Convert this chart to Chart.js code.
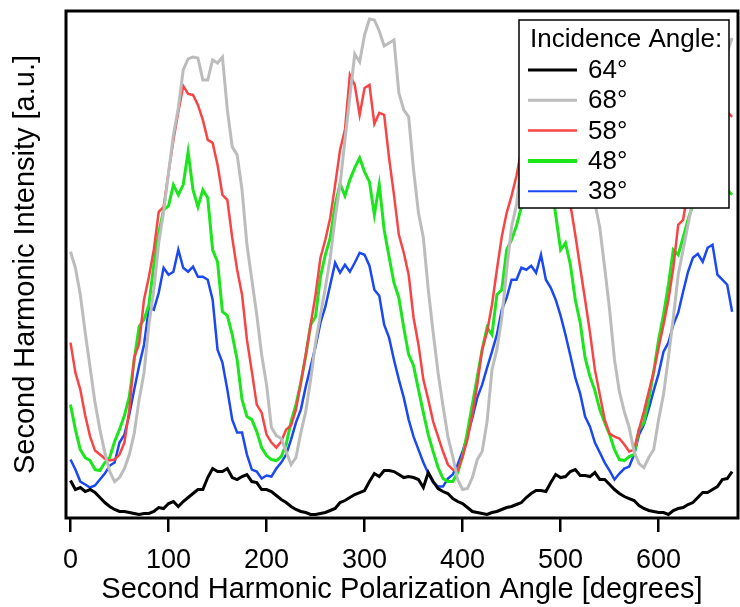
<!DOCTYPE html>
<html>
<head>
<meta charset="utf-8">
<script src="https://cdn.jsdelivr.net/npm/chart.js@4.4.1/dist/chart.umd.min.js"></script>
<style>
  html, body { margin: 0; padding: 0; background: #fff; }
  #wrap { width: 740px; height: 607px; position: relative; }
</style>
</head>
<body>
<div id="wrap"><canvas id="chart"></canvas></div>
<script>
// polarization angle in degrees (shared by all traces)
const angles = [
  0, 5, 10, 15, 20, 25, 30, 35, 40, 45, 50, 55, 60, 65, 70, 75, 80, 85, 90, 95,
  100, 105, 110, 115, 120, 125, 130, 135, 140, 145, 150, 155, 160, 165, 170, 175, 180, 185, 190, 195,
  200, 205, 210, 215, 220, 225, 230, 235, 240, 245, 250, 255, 260, 265, 270, 275, 280, 285, 290, 295,
  300, 305, 310, 315, 320, 325, 330, 335, 340, 345, 350, 355, 360, 365, 370, 375, 380, 385, 390, 395,
  400, 405, 410, 415, 420, 425, 430, 435, 440, 445, 450, 455, 460, 465, 470, 475, 480, 485, 490, 495,
  500, 505, 510, 515, 520, 525, 530, 535, 540, 545, 550, 555, 560, 565, 570, 575, 580, 585, 590, 595,
  600, 605, 610, 615, 620, 625, 630, 635, 640, 645, 650, 655, 660, 665, 670, 675
];

// second harmonic intensity [a.u.] for each incidence angle
const sh64 = [
  36, 27, 29, 25, 27, 24, 19, 14, 10, 7, 5, 5, 4, 3, 2, 3, 3, 5, 9, 8,
  13, 15, 10, 15, 19, 23, 27, 27, 39, 48, 45, 45, 48, 39, 37, 40, 42, 35, 34, 27,
  27, 25, 21, 17, 14, 10, 7, 5, 4, 2, 2, 3, 4, 6, 8, 14, 16, 19, 22, 24,
  26, 35, 43, 40, 46, 46, 45, 42, 39, 40, 39, 37, 29, 44, 35, 28, 25, 23, 18, 15,
  13, 9, 5, 4, 3, 2, 4, 5, 7, 9, 10, 12, 14, 19, 23, 26, 26, 25, 34, 42,
  39, 40, 45, 47, 41, 41, 40, 44, 37, 37, 32, 27, 23, 20, 18, 16, 11, 8, 6, 5,
  4, 4, 2, 6, 8, 9, 12, 14, 19, 24, 24, 27, 30, 37, 38, 45
];
const sh68 = [
  265, 249, 222, 184, 149, 114, 87, 64, 45, 35, 39, 48, 62, 83, 117, 144, 192, 227, 274, 305,
  344, 382, 409, 447, 458, 460, 459, 437, 437, 457, 454, 460, 407, 370, 362, 327, 272, 237, 202, 162,
  132, 89, 81, 78, 65, 52, 59, 84, 105, 137, 174, 202, 229, 259, 299, 332, 377, 420, 463, 455,
  482, 498, 497, 486, 471, 474, 477, 424, 407, 400, 347, 304, 279, 227, 184, 144, 111, 80, 60, 37,
  27, 28, 39, 57, 65, 95, 147, 167, 199, 247, 290, 312, 357, 402, 442, 467, 482, 487, 482, 472,
  462, 442, 422, 407, 387, 362, 337, 314, 289, 249, 207, 157, 125, 105, 89, 65, 53, 49, 59, 67,
  97, 122, 159, 199, 242, 267, 292, 317, 339, 362, 385, 407, 427, 447, 465, 479
];
const sh58 = [
  174, 144, 127, 101, 80, 66, 62, 58, 56, 57, 62, 74, 107, 159, 173, 217, 240, 267, 305, 310,
  344, 377, 405, 431, 423, 422, 412, 397, 377, 374, 352, 322, 317, 279, 247, 222, 177, 145, 112, 104,
  82, 74, 69, 75, 87, 91, 107, 134, 162, 192, 222, 259, 277, 299, 332, 367, 387, 442, 432, 402,
  429, 432, 393, 404, 402, 359, 322, 282, 264, 242, 199, 172, 137, 117, 95, 80, 65, 52, 47, 46,
  60, 77, 102, 132, 167, 185, 212, 247, 280, 304, 321, 341, 367, 392, 417, 432, 442, 445, 439, 427,
  412, 382, 312, 282, 249, 217, 184, 147, 122, 97, 83, 80, 78, 72, 65, 67, 87, 105, 125, 145,
  169, 192, 217, 249, 292, 297, 327, 347, 367, 382, 392, 399, 405, 407, 405, 400
];
const sh48 = [
  112, 87, 67, 59, 56, 47, 46, 54, 59, 75, 87, 101, 120, 157, 190, 197, 212, 252, 284, 307,
  311, 332, 322, 332, 365, 327, 310, 327, 319, 267, 255, 205, 201, 182, 157, 117, 100, 97, 85, 69,
  61, 57, 56, 60, 72, 95, 112, 134, 161, 192, 200, 240, 262, 279, 312, 333, 321, 337, 349, 359,
  345, 335, 302, 332, 287, 260, 234, 219, 189, 162, 151, 127, 104, 82, 65, 49, 38, 35, 35, 44,
  60, 85, 112, 140, 167, 189, 182, 222, 227, 267, 277, 291, 310, 327, 342, 352, 357, 352, 337, 302,
  267, 274, 252, 217, 194, 159, 140, 126, 107, 94, 82, 67, 57, 56, 60, 62, 87, 94, 117, 145,
  177, 202, 232, 267, 262, 279, 297, 312, 322, 327, 330, 332, 332, 330, 327, 322
];
const sh38 = [
  57, 47, 35, 32, 29, 31, 37, 43, 51, 54, 74, 82, 102, 127, 151, 172, 209, 207, 224, 249,
  242, 245, 267, 249, 245, 250, 240, 240, 237, 217, 167, 154, 127, 97, 84, 84, 62, 47, 45, 38,
  41, 40, 48, 54, 62, 77, 94, 107, 130, 150, 170, 194, 210, 232, 254, 244, 252, 245, 254, 264,
  262, 251, 227, 221, 192, 179, 157, 137, 119, 97, 80, 67, 54, 43, 34, 30, 30, 38, 42, 52,
  65, 81, 99, 119, 132, 149, 165, 182, 207, 219, 237, 237, 249, 247, 251, 244, 262, 237, 229, 217,
  201, 182, 161, 139, 123, 100, 90, 74, 64, 54, 46, 37, 43, 48, 50, 62, 82, 92, 108, 126,
  143, 165, 174, 192, 204, 225, 245, 259, 263, 255, 269, 272, 242, 237, 232, 205
];

const seriesLabels = ['64°', '68°', '58°', '48°', '38°'];
const seriesData = [sh64, sh68, sh58, sh48, sh38];
const seriesColors = ['#000000', '#bcbcbc', '#f84444', '#1be51b', '#1a48f2'];
const seriesWidths = [3, 3, 2.5, 3, 2.5];
const legendWidths = [3, 3, 2.5, 4, 2];

const xTicks = [0, 100, 200, 300, 400, 500, 600];

const FONT = '"Liberation Sans", Arial, Helvetica, sans-serif';

// black box round the plot area
const frame = {
  id: 'frame',
  afterDatasetsDraw(chart) {
    const { ctx, chartArea: a } = chart;
    ctx.save();
    ctx.strokeStyle = '#000';
    ctx.lineWidth = 3;
    ctx.strokeRect(a.left, a.top, a.right - a.left, a.bottom - a.top);
    ctx.restore();
  },
};

// legend sits inside the top right corner, on a white box
const insideLegend = {
  id: 'insideLegend',
  afterDraw(chart) {
    const { ctx } = chart;
    const box = { x: 519, y: 20, w: 210, h: 188 };
    ctx.save();
    ctx.fillStyle = '#fff';
    ctx.fillRect(box.x, box.y, box.w, box.h);
    ctx.strokeStyle = '#000';
    ctx.lineWidth = 1.5;
    ctx.strokeRect(box.x, box.y, box.w, box.h);
    ctx.fillStyle = '#000';
    ctx.textBaseline = 'middle';
    ctx.font = '26px ' + FONT;
    ctx.fillText('Incidence Angle:', 530, 40);
    chart.data.datasets.forEach((ds, i) => {
      const y = 70 + i * 30.3;
      ctx.strokeStyle = ds.borderColor;
      ctx.lineWidth = legendWidths[i];
      ctx.beginPath();
      ctx.moveTo(528, y);
      ctx.lineTo(577, y);
      ctx.stroke();
      ctx.fillStyle = '#000';
      ctx.fillText(ds.label, 588, y + 1);
    });
    ctx.restore();
  },
};

new Chart(document.getElementById('chart'), {
  type: 'line',
  data: {
    datasets: seriesData.map((vals, i) => ({
      label: seriesLabels[i],
      data: vals.map((v, j) => ({ x: angles[j], y: v })),
      borderColor: seriesColors[i],
      backgroundColor: seriesColors[i],
      borderWidth: seriesWidths[i],
      pointRadius: 0,
      tension: 0,
      fill: false,
    })),
  },
  options: {
    responsive: true,
    maintainAspectRatio: false,
    animation: false,
    layout: { padding: { top: 11, right: 2, left: 9, bottom: 0 } },
    plugins: {
      legend: { display: false },
      tooltip: { enabled: false },
    },
    scales: {
      x: {
        type: 'linear',
        min: -4.6,
        max: 681,
        afterBuildTicks: (scale) => {
          scale.ticks = xTicks.map((v) => ({ value: v }));
        },
        afterFit: (scale) => { scale.height = 89; },
        border: { display: false },
        grid: {
          drawOnChartArea: false,
          drawTicks: true,
          tickLength: 14,
          color: '#000',
          lineWidth: 2.5,
        },
        ticks: {
          color: '#000',
          font: { family: FONT, size: 27 },
          padding: 12,
          maxRotation: 0,
        },
        title: {
          display: true,
          text: 'Second Harmonic Polarization Angle [degrees]',
          color: '#000',
          font: { family: FONT, size: 29 },
          padding: { top: 0, bottom: 0 },
        },
      },
      y: {
        min: -1.5,
        max: 506,
        afterFit: (scale) => { scale.width = 57; },
        border: { display: false },
        grid: { display: false },
        ticks: { display: false },
        title: {
          display: true,
          text: 'Second Harmonic Intensity [a.u.]',
          color: '#000',
          font: { family: FONT, size: 29 },
          padding: { top: 0, bottom: 0 },
        },
      },
    },
  },
  plugins: [frame, insideLegend],
});
</script>
</body>
</html>
